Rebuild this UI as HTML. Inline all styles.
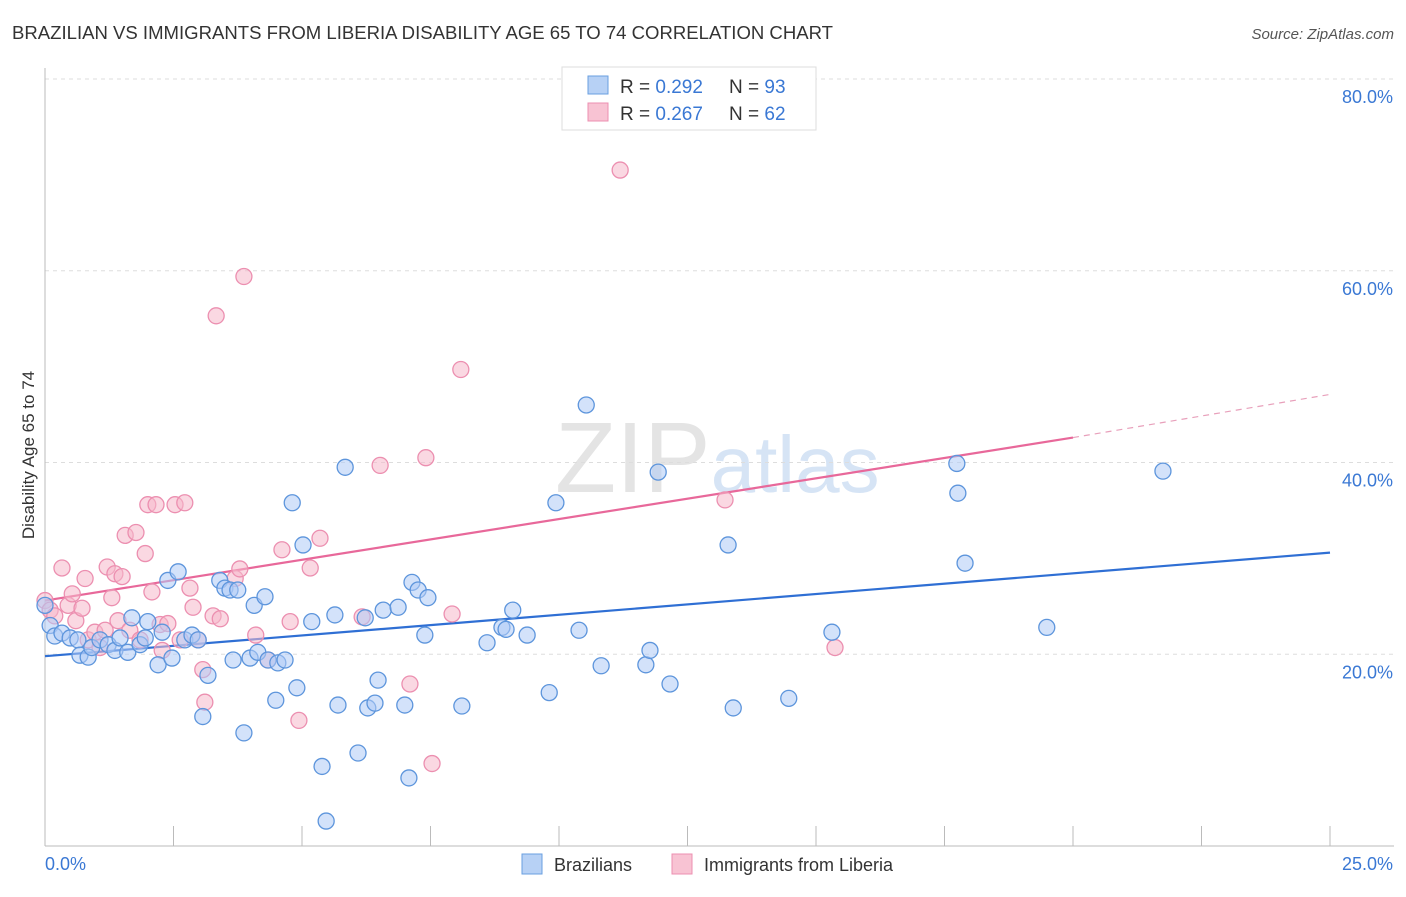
<!DOCTYPE html>
<html><head><meta charset="utf-8"><style>
body{margin:0;background:#fff;font-family:"Liberation Sans",sans-serif}
svg text{font-family:"Liberation Sans",sans-serif}
</style></head><body>
<svg id="chart" width="1406" height="892" viewBox="0 0 1406 892" xmlns="http://www.w3.org/2000/svg">
<text x="12" y="39" font-size="18" fill="#333" textLength="821" lengthAdjust="spacingAndGlyphs">BRAZILIAN VS IMMIGRANTS FROM LIBERIA DISABILITY AGE 65 TO 74 CORRELATION CHART</text>
<text x="1394" y="39" font-size="15" fill="#555" text-anchor="end" font-style="italic">Source: ZipAtlas.com</text>
<text x="555" y="492" font-size="100" fill="#e4e4e4" font-family="Liberation Serif">ZIP<tspan fill="#d6e4f5" font-family="Liberation Sans" font-size="80">atlas</tspan></text>
<g id="grid"></g>
<g id="axes"></g>
<g id="lines"></g>
<g id="pts"></g>
<text transform="translate(34,455) rotate(-90)" font-size="17" fill="#333" text-anchor="middle">Disability Age 65 to 74</text>
<g>
<rect x="562" y="67" width="254" height="63" fill="#fff" stroke="#ddd"/>
<rect x="588" y="76" width="20" height="18" fill="#b7d1f5" stroke="#6a9fe0"/>
<rect x="588" y="103" width="20" height="18" fill="#f8c3d3" stroke="#ec8fb0"/>
<text x="620" y="93" font-size="19" fill="#333">R = <tspan fill="#3a78d4">0.292</tspan></text>
<text x="729" y="93" font-size="19" fill="#333">N = <tspan fill="#3a78d4">93</tspan></text>
<text x="620" y="120" font-size="19" fill="#333">R = <tspan fill="#3a78d4">0.267</tspan></text>
<text x="729" y="120" font-size="19" fill="#333">N = <tspan fill="#3a78d4">62</tspan></text>
</g>
<g>
<rect x="522" y="854" width="20" height="20" fill="#b7d1f5" stroke="#6a9fe0"/>
<text x="554" y="871" font-size="18" fill="#333">Brazilians</text>
<rect x="672" y="854" width="20" height="20" fill="#f8c3d3" stroke="#ec8fb0"/>
<text x="704" y="871" font-size="18" fill="#333">Immigrants from Liberia</text>
</g>
</svg>
<script>
const xTicks=[0,2.5,5,7.5,10,12.5,15,17.5,20,22.5,25];
const yTicks=[20,40,60,80];
const yTickLabels=["20.0%","40.0%","60.0%","80.0%"];
const blueX=[0,0.1,0.19,0.33,0.49,0.64,0.68,0.84,0.91,1.07,1.23,1.36,1.46,1.61,1.69,1.85,1.95,2.0,2.2,2.28,2.39,2.47,2.59,2.72,2.86,2.98,3.17,3.07,3.4,3.5,3.6,3.75,3.66,3.87,3.99,4.07,4.14,4.28,4.34,4.49,4.53,4.67,4.81,4.9,5.02,5.19,5.39,5.47,5.64,5.7,5.84,6.09,6.23,6.28,6.42,6.48,6.58,6.87,7.0,7.08,7.14,7.26,7.39,7.45,8.11,8.6,8.89,8.97,9.1,9.38,9.81,9.94,10.39,10.53,10.82,11.69,11.77,11.93,12.16,13.29,13.39,14.47,15.31,17.74,17.76,17.9,19.49,21.75];
const blueY=[25.1,23.0,21.9,22.2,21.7,21.5,19.9,19.7,20.7,21.5,21.0,20.4,21.7,20.2,23.8,21.0,21.7,23.4,18.9,22.3,27.7,19.6,28.6,21.5,22.0,21.5,17.8,13.5,27.7,26.9,26.7,26.7,19.4,11.8,19.6,25.1,20.2,26.0,19.4,15.2,19.1,19.4,35.8,16.5,31.4,23.4,8.3,2.6,24.1,14.7,39.5,9.7,23.8,14.4,14.9,17.3,24.6,24.9,14.7,7.1,27.5,26.7,22.0,25.9,14.6,21.2,22.8,22.6,24.6,22.0,16.0,35.8,22.5,46.0,18.8,18.9,20.4,39.0,16.9,31.4,14.4,15.4,22.3,39.9,36.8,29.5,22.8,39.1];
const pinkX=[0,0.1,0.19,0.33,0.45,0.53,0.6,0.72,0.78,0.84,0.97,1.07,1.17,1.21,1.3,1.36,1.42,1.5,1.56,1.65,1.77,1.85,1.95,2.0,2.08,2.16,2.24,2.28,2.39,2.53,2.63,2.72,2.82,2.88,2.98,3.07,3.11,3.27,3.33,3.41,3.7,3.79,3.87,4.1,4.34,4.61,4.77,4.94,5.16,5.35,6.17,6.52,7.1,7.41,7.53,7.92,8.09,11.19,13.23,15.37];
const pinkY=[25.6,24.6,24.0,29.0,25.1,26.3,23.5,24.8,27.9,21.5,22.3,20.7,22.5,29.1,25.9,28.4,23.5,28.1,32.4,22.5,32.7,21.5,30.5,35.6,26.5,35.6,23.1,20.4,23.2,35.6,21.5,35.8,26.9,24.9,21.5,18.4,15.0,24.0,55.3,23.7,27.9,28.9,59.4,22.0,19.4,30.9,23.4,13.1,29.0,32.1,23.9,39.7,16.9,40.5,8.6,24.2,49.7,70.5,36.1,20.7];
const blueTrend=[[0,19.8],[25,30.6]];
const pinkTrend=[[0,25.6],[20,42.6],[25,47.1]];
const NS="http://www.w3.org/2000/svg";
const sx=v=>45+v/25*1285;
const sy=v=>846-v/80*767;
function mk(tag,attrs,parent){const e=document.createElementNS(NS,tag);for(const k in attrs)e.setAttribute(k,attrs[k]);document.getElementById(parent).appendChild(e);return e;}
yTicks.forEach((t,i)=>{
  const g=mk('line',{x1:45,x2:1394,y1:sy(t),y2:sy(t),stroke:'#ddd','stroke-dasharray':'4,4'},'grid');
  
  
  const tx=mk('text',{x:1393,y:sy(t)+24,'font-size':18,fill:'#3a78d4','text-anchor':'end'},'axes');
  tx.textContent=yTickLabels[i];
  
  
});
const ax=mk('line',{x1:45,x2:1394,y1:846,y2:846,stroke:'#bbb'},'axes');


const ay=mk('line',{x1:45,x2:45,y1:68,y2:846,stroke:'#bbb'},'axes');


xTicks.forEach(t=>{
  const l=mk('line',{x1:sx(t),x2:sx(t),y1:826,y2:846,stroke:'#bbb'},'axes');
  
  
});
const xl0=mk('text',{x:45,y:870,'font-size':18,fill:'#3a78d4'},'axes');xl0.textContent='0.0%';


const xl1=mk('text',{x:1393,y:870,'font-size':18,fill:'#3a78d4','text-anchor':'end'},'axes');xl1.textContent='25.0%';


function pts(X,Y,fill,stroke,name){X.forEach((x,i)=>{
  const c=mk('circle',{cx:sx(x),cy:sy(Y[i]),r:8,fill:fill,'fill-opacity':0.55,stroke:stroke,'stroke-width':1.3},'pts');
  
  
});}
pts(pinkX,pinkY,'#f6b8cb','#ec8fb0','liberia-point');
pts(blueX,blueY,'#aecbf5','#5d95dc','brazilian-point');
const bl=mk('line',{x1:sx(blueTrend[0][0]),y1:sy(blueTrend[0][1]),x2:sx(blueTrend[1][0]),y2:sy(blueTrend[1][1]),stroke:'#2f6fd4','stroke-width':2.2},'lines');


const pl=mk('line',{x1:sx(pinkTrend[0][0]),y1:sy(pinkTrend[0][1]),x2:sx(pinkTrend[1][0]),y2:sy(pinkTrend[1][1]),stroke:'#e8689a','stroke-width':2.2},'lines');


const pd=mk('line',{x1:sx(pinkTrend[1][0]),y1:sy(pinkTrend[1][1]),x2:sx(pinkTrend[2][0]),y2:sy(pinkTrend[2][1]),stroke:'#e8a0bb','stroke-width':1.2,'stroke-dasharray':'6,5'},'lines');


</script>
</body></html>
